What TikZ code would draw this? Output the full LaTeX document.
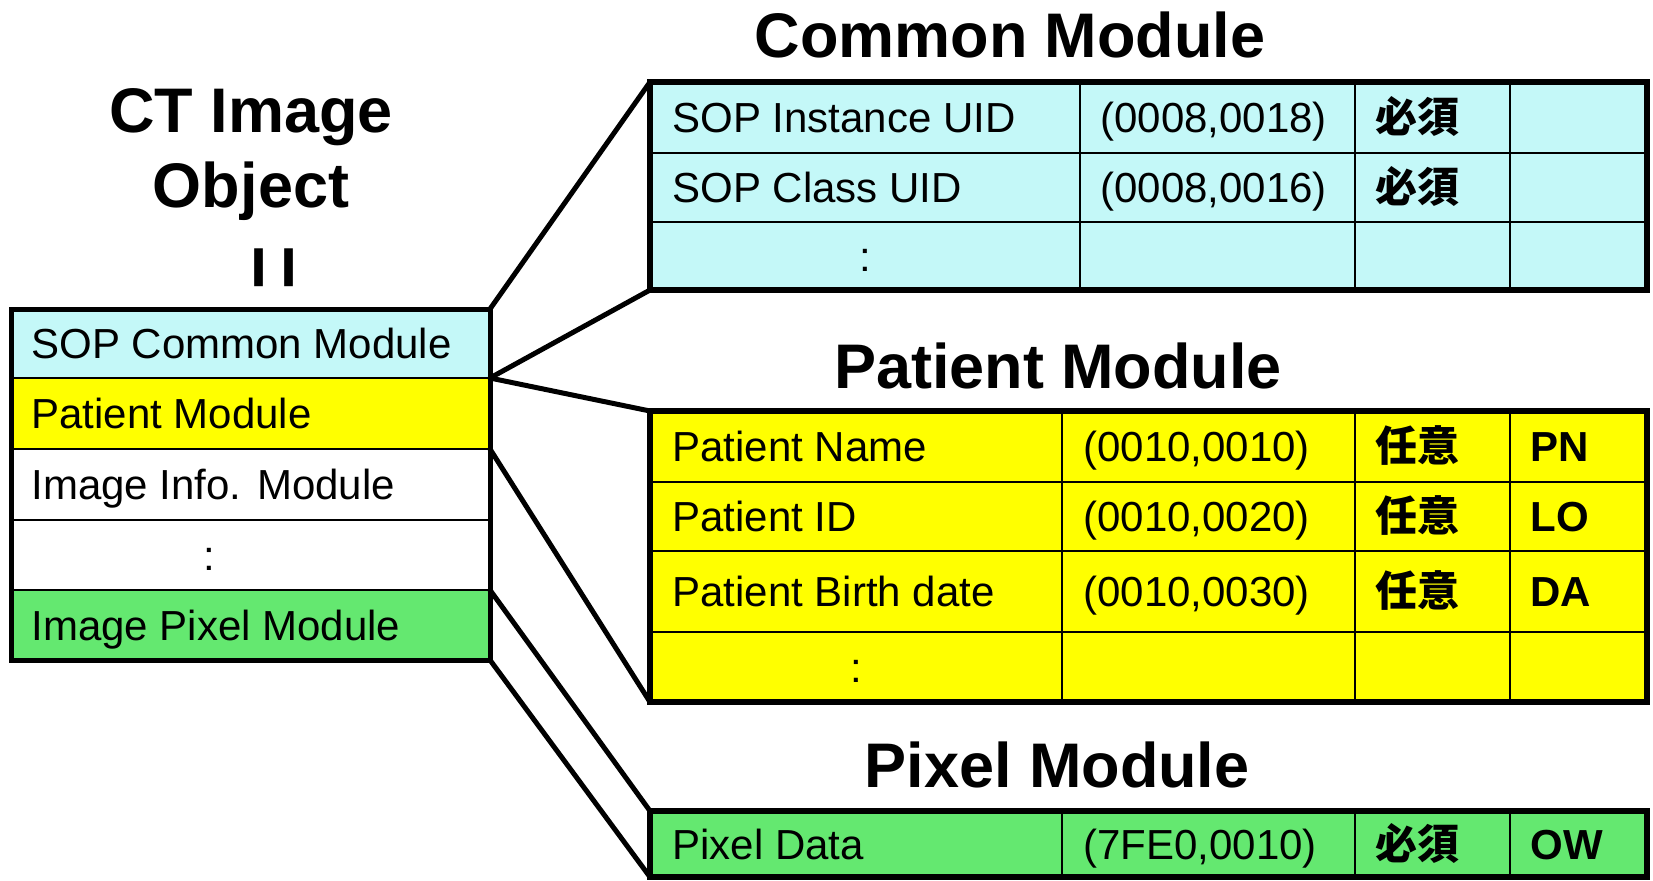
\documentclass[tikz,border=0pt]{standalone}
\usepackage{fontspec}
\setmainfont{Liberation Sans}
\newfontfamily\jpfont{Noto Sans CJK JP}
\definecolor{cyanbg}{RGB}{196,248,248}
\definecolor{yellowbg}{RGB}{255,255,0}
\definecolor{greenbg}{RGB}{100,232,112}
\begin{document}
\begin{tikzpicture}[x=0.5pt,y=-0.5pt,
  lrow/.style={rectangle,anchor=north west,minimum width=239.5pt,inner sep=0pt,outer sep=0pt},
  tbl/.style={rectangle,anchor=north west,minimum width=498.5pt,inner sep=0pt,outer sep=0pt},
  txt/.style={anchor=base west,inner sep=0pt,font=\fontsize{21}{25}\selectfont},
  ctxt/.style={anchor=base,inner sep=0pt,font=\fontsize{21}{25}\selectfont},
  btxt/.style={anchor=base west,inner sep=0pt,font=\bfseries\fontsize{21}{25}\selectfont},
  jtxt/.style={anchor=base west,inner sep=0pt,font=\jpfont\bfseries\fontsize{21}{25}\selectfont},
  title/.style={anchor=base,inner sep=0pt,font=\bfseries\fontsize{31.5}{36}\selectfont},
  inner/.style={line width=1pt},
  outer/.style={line width=3pt},
  link/.style={line width=2.5pt,line cap=round}]
\useasboundingbox (0,0) rectangle (1653,880);

% ---- CT image object: stack of modules ----
\node[lrow,fill=cyanbg,minimum height=34.5pt] (lsop) at (11,309) {};
\node[lrow,fill=yellowbg,minimum height=35.5pt] (lpat) at (11,378) {};
\node[lrow,fill=white,minimum height=35.5pt] (linfo) at (11,449) {};
\node[lrow,fill=white,minimum height=35pt] (ldots) at (11,520) {};
\node[lrow,fill=greenbg,minimum height=35pt] (lpix) at (11,590) {};
\foreach \y in {378,449,520,590} \draw[inner] (11,\y) -- (490,\y);
\draw[line width=2.5pt] (lsop.north west) rectangle (lpix.south east);

\node[txt] (tsop) at (31,358) {SOP Common Module};
\node[txt] (tpat) at (31,428) {Patient Module};
\node[txt] (tinfo) at (31,499) {Image Info. Module};
\node[ctxt] (tdots) at (209,570) {:};
\node[txt] (tpix) at (31,640) {Image Pixel Module};

\node[title] (ct1) at (251,132) {CT Image};
\node[title] (ct2) at (251,207) {Object};
\node[rotate=90,xscale=0.65,inner sep=0pt,font=\fontsize{60}{60}\selectfont] (eq) at (284,268) {=};

% ---- Common module table ----
\node[title] (hcommon) at (1010,57) {Common Module};
\node[tbl,fill=cyanbg,minimum height=104pt] (common) at (650,82) {};
\foreach \y in {153,222} \draw[inner] (650,\y) -- (1647,\y);
\foreach \x in {1080,1355,1510} \draw[inner] (\x,82) -- (\x,290);
\draw[outer] (common.north west) rectangle (common.south east);
\node[txt] (c11) at (672,132) {SOP Instance UID};
\node[txt] (c12) at (1100,132) {(0008,0018)};
\node[jtxt] (c13) at (1375,132) {必須};
\node[txt] (c21) at (672,202) {SOP Class UID};
\node[txt] (c22) at (1100,202) {(0008,0016)};
\node[jtxt] (c23) at (1375,202) {必須};
\node[ctxt] (c31) at (865,271) {:};

% ---- Patient module table ----
\node[title] (hpatient) at (1058,388) {Patient Module};
\node[tbl,fill=yellowbg,minimum height=145.5pt] (patient) at (650,411) {};
\foreach \y in {482,551,632} \draw[inner] (650,\y) -- (1647,\y);
\foreach \x in {1062,1355,1510} \draw[inner] (\x,411) -- (\x,702);
\draw[outer] (patient.north west) rectangle (patient.south east);
\node[txt] (p11) at (672,461) {Patient Name};
\node[txt] (p12) at (1083,461) {(0010,0010)};
\node[jtxt] (p13) at (1375,461) {任意};
\node[btxt] (p14) at (1530,461) {PN};
\node[txt] (p21) at (672,531) {Patient ID};
\node[txt] (p22) at (1083,531) {(0010,0020)};
\node[jtxt] (p23) at (1375,531) {任意};
\node[btxt] (p24) at (1530,531) {LO};
\node[txt] (p31) at (672,606) {Patient Birth date};
\node[txt] (p32) at (1083,606) {(0010,0030)};
\node[jtxt] (p33) at (1375,606) {任意};
\node[btxt] (p34) at (1530,606) {DA};
\node[ctxt] (p41) at (856,682) {:};

% ---- Pixel module table ----
\node[title] (hpixel) at (1057,787) {Pixel Module};
\node[tbl,fill=greenbg,minimum height=33pt] (pixel) at (650,811) {};
\foreach \x in {1062,1355,1510} \draw[inner] (\x,811) -- (\x,877);
\draw[outer] (pixel.north west) rectangle (pixel.south east);
\node[txt] (x11) at (672,859) {Pixel Data};
\node[txt] (x12) at (1083,859) {(7FE0,0010)};
\node[jtxt] (x13) at (1375,859) {必須};
\node[btxt] (x14) at (1530,859) {OW};

% ---- zoom-out connectors ----
\draw[link] (lsop.north east) -- (common.north west);
\draw[link] (lsop.south east) -- (common.south west);
\draw[link] (lpat.north east) -- (patient.north west);
\draw[link] (lpat.south east) -- (patient.south west);
\draw[link] (lpix.north east) -- (pixel.north west);
\draw[link] (lpix.south east) -- (pixel.south west);
\end{tikzpicture}
\end{document}
